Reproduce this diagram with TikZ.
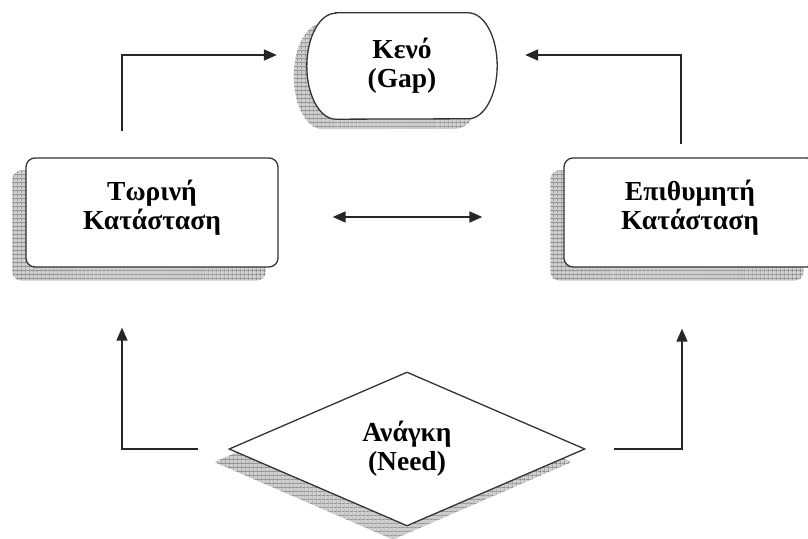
\documentclass[tikz,border=0pt]{standalone}
\usepackage{fontspec}
\setmainfont{Liberation Serif}
\usetikzlibrary{arrows.meta,shapes.geometric,patterns.meta,backgrounds}

\newcommand\lblfont{\bfseries\fontsize{27.5}{29}\selectfont}
% outline of the "Gap" terminator, shifted by (#1,#2)
\newcommand\stadiumpath[2]{([shift={(#1+29,#2)}]gap.north west) -- ([shift={(#1-29,#2)}]gap.north east)
  arc[start angle=90,end angle=-90,x radius=29pt,y radius=53pt]
  -- ([shift={(#1+29,#2)}]gap.south west)
  arc[start angle=270,end angle=90,x radius=29pt,y radius=53pt] -- cycle}

\tikzset{
  outline/.style={draw=black!80, line width=1.3pt},
  boxnode/.style={outline, fill=white, rounded corners=9pt,
    minimum width=252pt, minimum height=109pt, inner sep=0pt,
    align=center, font=\lblfont},
  decision/.style={diamond, outline, fill=white,
    minimum width=356pt, minimum height=154pt, inner sep=0pt,
    align=center, font=\lblfont},
  shadowfill/.style={
    preaction={fill=gray!38},
    preaction={pattern={Lines[distance=4pt,angle=0,line width=0.7pt]}, pattern color=black!55},
    pattern={Lines[distance=4pt,angle=90,line width=0.7pt]}, pattern color=black!55},
  arr/.style={line width=1.7pt, draw=black!85, -{Triangle[length=13pt,width=11pt]}},
  tipl/.style={{Triangle[length=13pt,width=11pt]}-{Triangle[length=13pt,width=11pt]}}
}

\begin{document}
\begin{tikzpicture}[x=1pt,y=1pt]
\useasboundingbox (0,0) rectangle (808,538);

% main nodes (the trailing short line lifts the text above the box centre)
\node[boxnode] (cur) at (152,325.5) {Τωρινή\\Κατάσταση\\[-13pt]\mbox{}};
\node[boxnode] (des) at (690,325.5) {Επιθυμητή\\Κατάσταση\\[-13pt]\mbox{}};
\node[decision] (need) at (407,89) {Ανάγκη\\(Need)};
\node[minimum width=190pt, minimum height=106pt, inner sep=0pt,
      align=center, font=\lblfont] (gap) at (402,472) {Κενό\\(Gap)};

% drop shadows and the terminator outline
\begin{scope}[on background layer]
  \path[shadowfill, rounded corners=9pt]
    ([shift={(-13,-13)}]cur.south west) rectangle ([shift={(-13,-13)}]cur.north east);
  \path[shadowfill, rounded corners=9pt]
    ([shift={(-13,-13)}]des.south west) rectangle ([shift={(-13,-13)}]des.north east);
  \path[shadowfill]
    ([shift={(-14,-13)}]need.north) -- ([shift={(-14,-13)}]need.east)
    -- ([shift={(-14,-13)}]need.south) -- ([shift={(-14,-13)}]need.west) -- cycle;
  \path[shadowfill] \stadiumpath{-13}{-10};
  \draw[outline, fill=white] \stadiumpath{0}{0};
\end{scope}

% connectors
\draw[arr] ([shift={(-30,26)}]cur.north) |- ([shift={(-30,11)}]gap.west);
\draw[arr] ([shift={(-9,13)}]des.north) |- ([shift={(28,11)}]gap.east);
\draw[arr, tipl] ([shift={(54,-4.5)}]cur.east) -- ([shift={(-81,-4.5)}]des.west);
\draw[arr] ([xshift=-30]need.west) -| ([shift={(-30,-60)}]cur.south);
\draw[arr] ([xshift=28]need.east) -| ([shift={(-8,-61)}]des.south);
\end{tikzpicture}
\end{document}
